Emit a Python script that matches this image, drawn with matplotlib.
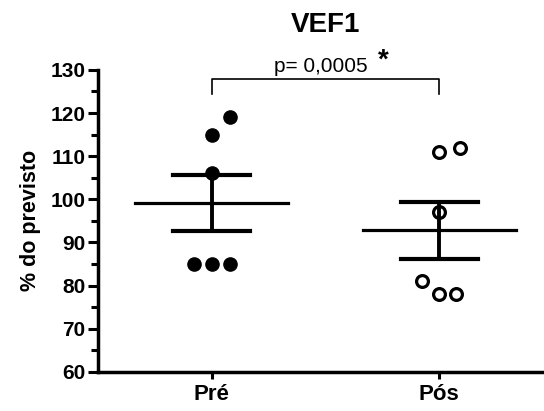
import numpy as np
import matplotlib
matplotlib.use("Agg")
import matplotlib.pyplot as plt
from matplotlib.ticker import MultipleLocator

plt.rcParams['font.family'] = ['Liberation Sans', 'DejaVu Sans']

# dados
grupos = ["Pré", "Pós"]
pre = [119, 115, 106, 85, 85, 85]
pos = [112, 111, 97, 81, 78, 78]
# deslocamento horizontal dos pontos (como no GraphPad)
jit_pre = [0.08, 0.0, 0.0, -0.08, 0.0, 0.08]
jit_pos = [0.09, 0.0, 0.0, -0.075, 0.0, 0.075]
p_texto = "p= 0,0005"

fig = plt.figure(figsize=(5.44, 4.11), dpi=100)
ax = fig.add_axes([0.180, 0.095, 0.820, 0.735])

for k, (vals, jit) in enumerate([(pre, jit_pre), (pos, jit_pos)]):
    x0 = k + 1
    xs = x0 + np.array(jit)
    if k == 0:
        ax.plot(xs, vals, 'o', ms=9.5, color='black', zorder=2)
    else:
        ax.plot(xs, vals, 'o', ms=8.5, mfc='white', mec='black', mew=2.3, zorder=2)
    m = np.mean(vals)
    sem = np.std(vals, ddof=1) / np.sqrt(len(vals))
    ax.plot([x0 - 0.335, x0 + 0.335], [m, m], color='black', lw=2.3, zorder=3)
    ax.plot([x0, x0], [m - sem, m + sem], color='black', lw=2.8, zorder=3)
    for yv in (m - sem, m + sem):
        ax.plot([x0 - 0.17, x0 + 0.17], [yv, yv], color='black', lw=3, zorder=3)

# barra de significância
ax.plot([1, 1, 2, 2], [124.3, 127.9, 127.9, 124.3], color='black', lw=1.2, clip_on=False)
ax.text(1.478, 128.6, p_texto, ha='center', va='bottom', fontsize=15)
ax.text(1.755, 129.2, "*", ha='center', va='bottom', fontsize=20, fontweight='bold')

ax.set_xlim(0.5, 2.46)
ax.set_ylim(60, 130)
ax.set_xticks([1, 2])
ax.set_xticklabels(grupos, fontsize=16, fontweight='bold')
ax.yaxis.set_major_locator(MultipleLocator(10))
ax.yaxis.set_minor_locator(MultipleLocator(5))
for lab in ax.get_yticklabels():
    lab.set_fontweight('bold')
    lab.set_fontsize(15)
ax.tick_params(axis='y', which='major', length=7, width=2.2, pad=2)
ax.tick_params(axis='y', which='minor', length=5, width=2.2)
ax.tick_params(axis='x', length=5, width=2.2, pad=4)

for s in ['top', 'right']:
    ax.spines[s].set_visible(False)
for s in ['left', 'bottom']:
    ax.spines[s].set_linewidth(2.5)

ax.set_ylabel("% do previsto", fontsize=15.5, fontweight='bold', labelpad=7)
fig.text(0.598, 0.94, "VEF1", ha='center', va='center', fontsize=20, fontweight='bold')

fig.savefig("out.png", dpi=100)
